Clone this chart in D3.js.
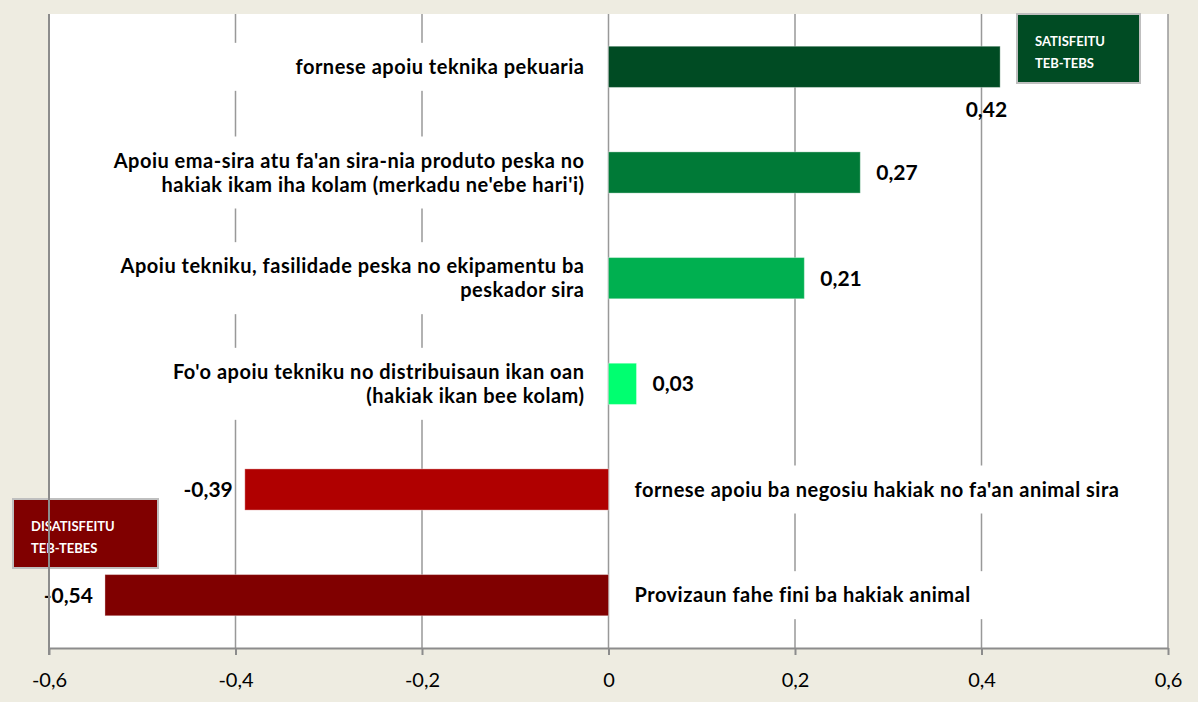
<!DOCTYPE html>
<html>
<head>
<meta charset="utf-8">
<script src="https://cdn.jsdelivr.net/npm/d3@7"></script>
<style>
  html, body { margin: 0; padding: 0; background: #EEECE1; }
  svg { display: block; }
</style>
</head>
<body>
<svg id="chart" width="1198" height="702"></svg>
<script>
/* Chart data */
const categories = [
  ["fornese apoiu teknika pekuaria"],
  ["Apoiu ema-sira atu fa'an sira-nia produto peska no", "hakiak ikam iha kolam (merkadu ne'ebe hari'i)"],
  ["Apoiu tekniku, fasilidade peska no ekipamentu ba", "peskador sira"],
  ["Fo'o apoiu tekniku no distribuisaun ikan oan", "(hakiak ikan bee kolam)"],
  ["fornese apoiu ba negosiu hakiak no fa'an animal sira"],
  ["Provizaun fahe fini ba hakiak animal"]
];
const values = [0.42, 0.27, 0.21, 0.03, -0.39, -0.54];
const barColors = ["#004B23", "#007A37", "#00B050", "#00FF70", "#B00000", "#800000"];
const xTicks = [-0.6, -0.4, -0.2, 0, 0.2, 0.4, 0.6];
const legendItems = [
  { lines: ["SATISFEITU", "TEB-TEBS"], color: "#004B23" },
  { lines: ["DISATISFEITU", "TEB-TEBES"], color: "#800000" }
];

/* Layout */
const width = 1198;
const height = 702;
const plot = { left: 49, right: 1168, top: 14, bottom: 648 };
const fontFamily = "Lato, 'Open Sans', sans-serif";

const locale = d3.formatLocale({
  decimal: ",", thousands: ".", grouping: [3], currency: ["", ""], minus: "-"
});
const tickFormat = locale.format(".1~f");
const valueFormat = locale.format(".2f");

const svg = d3.select("#chart");

const x = d3.scaleLinear().domain([-0.6, 0.6]).range([plot.left, plot.right]);
const y = d3.scaleBand()
  .domain(d3.range(values.length))
  .range([plot.top, plot.bottom])
  .padding(0);
const barHeight = y.bandwidth() * 0.39;

// Background and plot area
svg.append("rect").attr("width", width).attr("height", height).attr("fill", "#EEECE1");
svg.append("rect")
  .attr("x", plot.left).attr("y", plot.top)
  .attr("width", plot.right - plot.left).attr("height", plot.bottom - plot.top)
  .attr("fill", "#ffffff");

// Vertical gridlines
svg.append("g")
  .selectAll("line")
  .data(xTicks.filter(d => d !== -0.6))
  .join("line")
  .attr("x1", d => x(d)).attr("x2", d => x(d))
  .attr("y1", plot.top).attr("y2", plot.bottom)
  .attr("stroke", "#999999")
  .attr("stroke-width", 1.5);

// Bars
svg.append("g")
  .selectAll("rect")
  .data(values)
  .join("rect")
  .attr("x", d => x(Math.min(0, d)))
  .attr("y", (d, i) => y(i) + (y.bandwidth() - barHeight) / 2)
  .attr("width", d => Math.abs(x(d) - x(0)))
  .attr("height", barHeight)
  .attr("fill", (d, i) => barColors[i])
  .attr("stroke", "rgba(255,255,255,0.35)")
  .attr("stroke-width", 1);

// Category labels sit on white boxes that hide the gridlines
const lineHeight = 24;
const labelGroups = svg.append("g")
  .selectAll("g")
  .data(categories.map((lines, i) => ({ lines, value: values[i], index: i })))
  .join("g")
  .attr("transform", d => `translate(0,${y(d.index) + y.bandwidth() / 2})`);

labelGroups.append("rect")
  .attr("x", d => d.value >= 0 ? x(-0.4) - 40 : x(0) + 12)
  .attr("width", d => d.value >= 0 ? (x(0) - 12) - (x(-0.4) - 40) : (x(0.6) - 30) - (x(0) + 12))
  .attr("y", d => -(d.lines.length * lineHeight + 24) / 2)
  .attr("height", d => d.lines.length * lineHeight + 24)
  .attr("fill", "#ffffff");

labelGroups.append("text")
  .attr("text-anchor", d => d.value >= 0 ? "end" : "start")
  .attr("font-family", fontFamily)
  .attr("font-weight", "bold")
  .attr("font-size", 20)
  .attr("letter-spacing", 0.5)
  .attr("fill", "#000")
  .selectAll("tspan")
  .data(d => d.lines.map((line, k) => ({ line, k, n: d.lines.length, value: d.value })))
  .join("tspan")
  .attr("x", d => d.value >= 0 ? x(0) - 24 : x(0) + 26)
  .attr("y", d => (d.k - (d.n - 1) / 2) * lineHeight)
  .attr("dy", "0.35em")
  .text(d => d.line);

// Legend boxes
const legendBoxes = [
  { x: 1017, y: 14, w: 123, h: 69 },
  { x: 13, y: 499, w: 145, h: 69 }
];
const legend = svg.append("g")
  .selectAll("g")
  .data(legendItems.map((item, i) => ({ ...item, box: legendBoxes[i] })))
  .join("g")
  .attr("transform", d => `translate(${d.box.x},${d.box.y})`);

legend.append("rect")
  .attr("width", d => d.box.w)
  .attr("height", d => d.box.h)
  .attr("fill", d => d.color)
  .attr("stroke", "#BFBFBF")
  .attr("stroke-width", 2);

legend.append("text")
  .attr("font-family", fontFamily)
  .attr("font-weight", "bold")
  .attr("font-size", 13)
  .attr("fill", "#ffffff")
  .selectAll("tspan")
  .data(d => d.lines)
  .join("tspan")
  .attr("x", 18)
  .attr("y", (d, k) => 27 + k * 22)
  .attr("dy", "0.35em")
  .text(d => d);

// Value labels; if it would run into the legend box, put it under the bar end
const legendLeft = legendBoxes[0].x;
svg.append("g")
  .selectAll("text")
  .data(values)
  .join("text")
  .attr("font-family", fontFamily)
  .attr("font-weight", "bold")
  .attr("font-size", 21)
  .attr("fill", "#000")
  .attr("dy", "0.35em")
  .each(function(d, i) {
    const node = d3.select(this).text(valueFormat(d));
    const cy = y(i) + y.bandwidth() / 2;
    if (d >= 0) {
      if (x(d) + 16 + 46 > legendLeft) {
        node.attr("x", x(d) + 7).attr("y", cy + barHeight / 2 + 22).attr("text-anchor", "end");
      } else {
        node.attr("x", x(d) + 16).attr("y", cy).attr("text-anchor", "start");
      }
    } else {
      node.attr("x", x(d) - 12).attr("y", cy).attr("text-anchor", "end");
    }
  });

// Bottom axis
const xAxis = d3.axisBottom(x)
  .tickValues(xTicks)
  .tickFormat(tickFormat)
  .tickSizeInner(7)
  .tickSizeOuter(0)
  .tickPadding(18);

const axisGroup = svg.append("g")
  .attr("transform", `translate(0,${plot.bottom})`)
  .call(xAxis);
axisGroup.select(".domain").attr("stroke", "#8C8C8C").attr("stroke-width", 2);
axisGroup.selectAll(".tick line").attr("stroke", "#8C8C8C").attr("stroke-width", 2);
axisGroup.selectAll(".tick text")
  .attr("font-family", fontFamily)
  .attr("font-size", 20)
  .attr("fill", "#000");

// Left axis line
svg.append("line")
  .attr("x1", plot.left).attr("x2", plot.left)
  .attr("y1", plot.top).attr("y2", plot.bottom + 7)
  .attr("stroke", "#8C8C8C")
  .attr("stroke-width", 2);
</script>
</body>
</html>
